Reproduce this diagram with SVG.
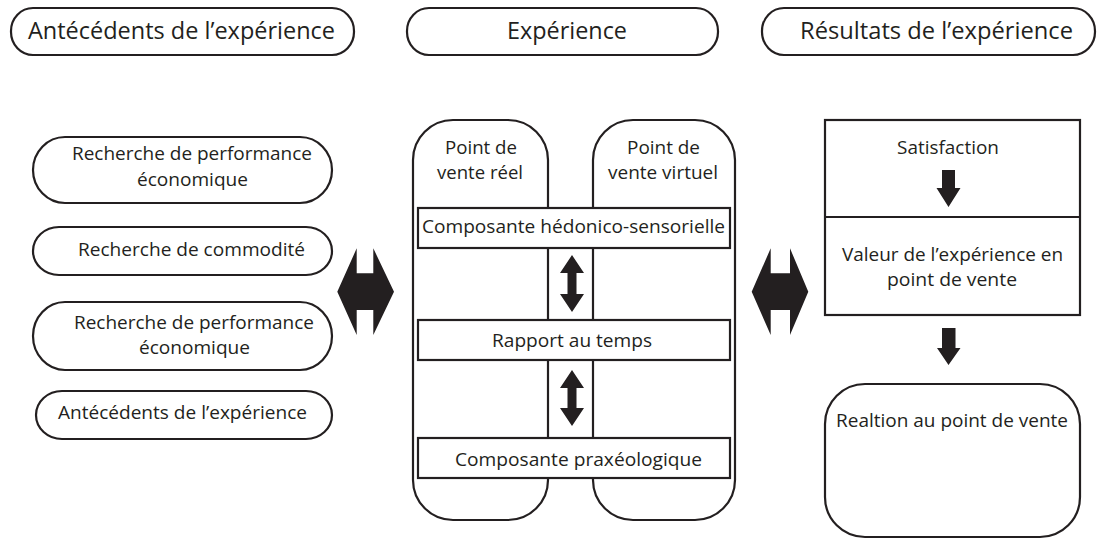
<svg xmlns="http://www.w3.org/2000/svg" width="1099" height="539" viewBox="0 0 1099 539">
<style>
.box{fill:#fff;stroke:#231f20;stroke-width:2.2}
.t{font-family:"Open Sans","Noto Sans","Liberation Sans",sans-serif;fill:#231f20;font-size:17.5px}
.h{font-size:24px}
.arr{fill:#231f20;stroke:none}
</style>
<rect width="1099" height="539" fill="#fff"/>
<g id="header-antecedents">
<rect class="box" x="11" y="8" width="343" height="47" rx="22" ry="23"/>
<text class="t h" x="28" y="39" textLength="307" lengthAdjust="spacingAndGlyphs">Antécédents de l’expérience</text>
</g>
<g id="header-experience">
<rect class="box" x="407" y="8" width="311" height="47" rx="22" ry="23"/>
<text class="t h" x="507" y="39" textLength="120" lengthAdjust="spacingAndGlyphs">Expérience</text>
</g>
<g id="header-resultats">
<rect class="box" x="762" y="8" width="333" height="47" rx="22" ry="23"/>
<text class="t h" x="800" y="39" textLength="273" lengthAdjust="spacingAndGlyphs">Résultats de l’expérience</text>
</g>
<g id="ante-1">
<rect class="box" x="33" y="137" width="299" height="66" rx="32" ry="33"/>
<text class="t" x="72" y="160" textLength="240" lengthAdjust="spacingAndGlyphs">Recherche de performance</text>
<text class="t" x="137" y="186" textLength="111" lengthAdjust="spacingAndGlyphs">économique</text>
</g>
<g id="ante-2">
<rect class="box" x="33" y="227" width="299" height="48" rx="26" ry="24"/>
<text class="t" x="78" y="256" textLength="227" lengthAdjust="spacingAndGlyphs">Recherche de commodité</text>
</g>
<g id="ante-3">
<rect class="box" x="33" y="302" width="299" height="68" rx="32" ry="34"/>
<text class="t" x="74" y="329" textLength="240" lengthAdjust="spacingAndGlyphs">Recherche de performance</text>
<text class="t" x="139" y="354" textLength="111" lengthAdjust="spacingAndGlyphs">économique</text>
</g>
<g id="ante-4">
<rect class="box" x="36" y="391" width="296" height="48" rx="26" ry="24"/>
<text class="t" x="58" y="419" textLength="249" lengthAdjust="spacingAndGlyphs">Antécédents de l’expérience</text>
</g>
<g id="pv-reel">
<rect class="box" x="413" y="120" width="135" height="400" rx="40" ry="40"/>
<text class="t" x="445" y="154" textLength="72" lengthAdjust="spacingAndGlyphs">Point de</text>
<text class="t" x="437" y="179" textLength="86" lengthAdjust="spacingAndGlyphs">vente réel</text>
</g>
<g id="pv-virtuel">
<rect class="box" x="593" y="120" width="142" height="400" rx="40" ry="40"/>
<text class="t" x="627" y="154" textLength="73" lengthAdjust="spacingAndGlyphs">Point de</text>
<text class="t" x="608" y="179" textLength="110" lengthAdjust="spacingAndGlyphs">vente virtuel</text>
</g>
<g id="comp-hedonico">
<rect class="box" x="418" y="208" width="312" height="40"/>
<text class="t" x="422" y="233" textLength="303" lengthAdjust="spacingAndGlyphs">Composante hédonico-sensorielle</text>
</g>
<g id="rapport-temps">
<rect class="box" x="418" y="320" width="312" height="40"/>
<text class="t" x="492" y="347" textLength="160" lengthAdjust="spacingAndGlyphs">Rapport au temps</text>
</g>
<g id="comp-praxeo">
<rect class="box" x="418" y="438" width="312" height="40"/>
<text class="t" x="455" y="466" textLength="247" lengthAdjust="spacingAndGlyphs">Composante praxéologique</text>
</g>
<g id="resultats-box">
<rect class="box" x="825" y="120" width="255" height="195"/>
<line x1="825" y1="217" x2="1080" y2="217" stroke="#231f20" stroke-width="2.2"/>
<text class="t" x="897" y="154" textLength="102" lengthAdjust="spacingAndGlyphs">Satisfaction</text>
<text class="t" x="842" y="261" textLength="221" lengthAdjust="spacingAndGlyphs">Valeur de l’expérience en</text>
<text class="t" x="887" y="286" textLength="130" lengthAdjust="spacingAndGlyphs">point de vente</text>
</g>
<g id="relation">
<rect class="box" x="825" y="384" width="255" height="153" rx="40" ry="40"/>
<text class="t" x="836" y="427" textLength="232" lengthAdjust="spacingAndGlyphs">Realtion au point de vente</text>
</g>
<g id="connectors">
<polygon class="arr" points="337.3,291.7 356.7,248.3 356.7,273.3 373.3,273.3 373.3,248.3 394,291.7 373.3,335 373.3,310 356.7,310 356.7,335"/>
<polygon class="arr" points="751.7,291.7 770.7,248.3 770.7,273.3 790,273.3 790,248.3 808.3,291.7 790,335 790,310 770.7,310 770.7,335"/>
<polygon class="arr" points="572,255 584,273 576.5,273 576.5,294 584,294 572,312 560,294 567.5,294 567.5,273 560,273"/>
<polygon class="arr" points="572,370 584,388 576.5,388 576.5,408 584,408 572,426 560,408 567.5,408 567.5,388 560,388"/>
<polygon class="arr" points="942,170 955,170 955,188 960.5,188 948.5,207 936.5,188 942,188"/>
<polygon class="arr" points="942,328 955.5,328 955.5,348 960.5,348 948.5,365 937,348 942,348"/>
</g>
</svg>
